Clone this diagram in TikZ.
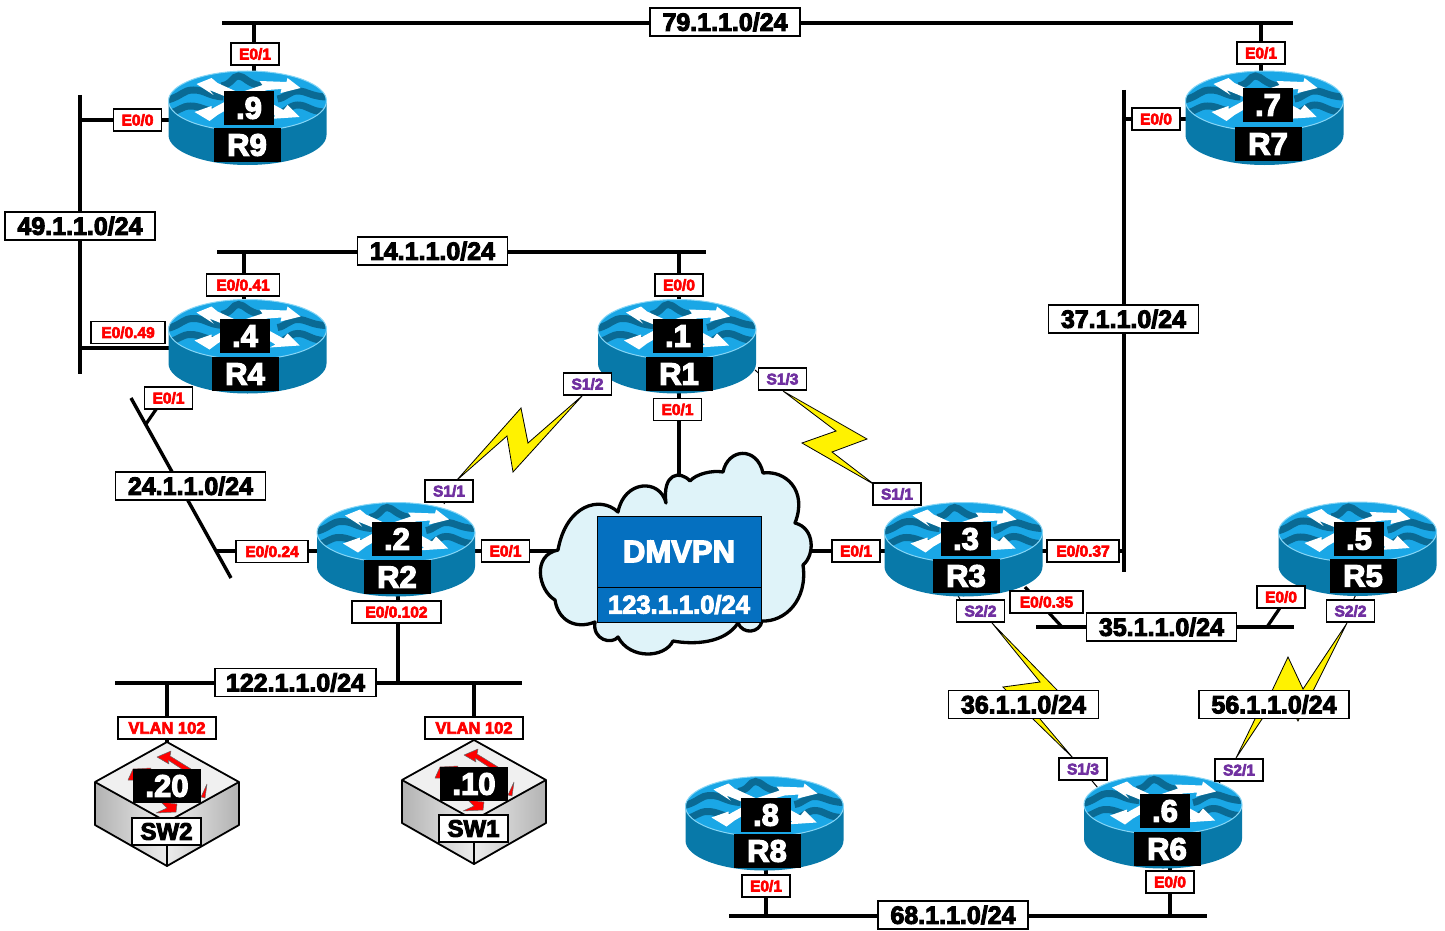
\documentclass[tikz,border=0pt]{standalone}
\usepackage{fontspec}
\newfontfamily\diagfont{Liberation Sans Bold}[FakeBold=4]
\usetikzlibrary{arrows.meta}
\definecolor{routerbody}{HTML}{0879A9}
\definecolor{routertop}{HTML}{1AA7E6}
\definecolor{routerwave}{HTML}{0A6A94}
\definecolor{routerrim}{HTML}{86D6F6}
\definecolor{cloudfill}{HTML}{DFF3F9}
\definecolor{dmvpnblue}{HTML}{0570C0}
\definecolor{portpurple}{HTML}{7030A0}
\tikzset{
    bus/.style = {line width = 3.4},
    bolt/.style = {draw = black, line width = 0.8, fill = yellow, line join = miter},
    routerspot/.style = {inner sep = 0, minimum size = 0},
    addrbox/.style = {fill = black, text = white, font = \diagfont\fontsize{31}{33}\selectfont, inner sep = 0, minimum width = 50, minimum height = 34},
    namebox/.style = {addrbox, minimum width = 67},
    netbox/.style = {draw, line width = 1.2, fill = white, font = \diagfont\fontsize{25}{27}\selectfont, inner sep = 0, minimum width = 150, minimum height = 28},
    portbox/.style = {draw, line width = 1.2, fill = white, text = red, font = \diagfont\fontsize{15.5}{17}\selectfont, inner sep = 0, minimum width = 48, minimum height = 22},
    serialbox/.style = {portbox, text = portpurple},
    redshape/.style = {fill = red, draw = black!60, line width = 0.5, line join = round},
    routericon/.pic = {
        \fill[routerbody] (-79,-17) -- (-79,17) arc[start angle = 180, end angle = 0, x radius = 79, y radius = 30] -- (79,-17) -- cycle;
        \begin{scope}
            \clip (0,-17) ellipse[x radius = 79, y radius = 30];
            \fill[routertop] (-80,-50) rectangle (80,20);
            \draw[routerwave, line width = 7] (-26,-32) .. controls (-15,-34) and (-15,-42) .. (-9,-42) .. controls (-3,-42) and (0,-34) .. (14,-32);
            \draw[routerwave, line width = 7] (-80,-18) .. controls (-65,-22) and (-65,-28) .. (-54,-28) .. controls (-42,-28) and (-40,-22) .. (-24,-21);
            \draw[routerwave, line width = 7] (30,-19) .. controls (38,-20) and (42,-27) .. (50,-27) .. controls (60,-27) and (62,-22) .. (78,-21);
            \draw[routerwave, line width = 7] (-78,-5) .. controls (-68,-7) and (-66,-12) .. (-57,-12) .. controls (-47,-12) and (-42,-7) .. (-30,-6);
            \draw[routerwave, line width = 7] (28,-3) .. controls (38,-5) and (42,-13) .. (50,-13) .. controls (60,-13) and (62,-7) .. (76,-6);
            \fill[white] (-51,-34) -- (-36,-40) -- (-30,-35) -- (-8,-25) -- (-16,-19) -- (-38,-28) -- (-34,-23) -- cycle;
            \fill[white] (53,-30) -- (40,-40) -- (39,-36) -- (12,-37) -- (15,-33) -- (-12,-24) -- (-8,-20) -- (20,-28) -- (34,-29) -- (33,-25) -- cycle;
            \fill[white] (-53,-6) -- (-36,-12) -- (-36,-9) -- (-12,-22) -- (-4,-18) -- (-30,-3) -- (-38,3) -- cycle;
            \fill[white] (52,-1) -- (40,-13) -- (36,-8) -- (14,-20) -- (8,-14) -- (28,-2) -- (22,1) -- cycle;
        \end{scope}
        \draw[routerrim, line width = 1] (0,-17) ellipse[x radius = 79, y radius = 30];
    },
    switchicon/.pic = {
        \fill[left color = gray!60, right color = gray!15] (-72,0) -- (0,40) -- (0,84) -- (-72,43) -- cycle;
        \fill[left color = gray!15, right color = gray!60] (72,0) -- (0,40) -- (0,84) -- (72,43) -- cycle;
        \fill[gray!12] (0,-40) -- (72,0) -- (0,40) -- (-72,0) -- cycle;
        \draw[redshape] (-10,-25) -- (4,-31) -- (3,-26) -- (24,-13) -- (21,-9) -- (1,-22) -- (2,-18) -- cycle;
        \draw[redshape] (-39,-2) -- (-34,-13) -- (-16,-14) -- (-20,-2) -- cycle;
        \draw[redshape] (34,15) -- (40,2) -- (38,16) -- cycle;
        \draw[redshape] (-11,31) -- (9,30) -- (10,22) -- (-6,20) -- (0,26) -- cycle;
        \draw[line width = 1.8, line join = round] (0,-40) -- (72,0) -- (72,43) -- (0,84) -- (-72,43) -- (-72,0) -- cycle;
        \draw[line width = 1.8] (-72,0) -- (0,40) -- (72,0) (0,40) -- (0,84);
    },
}
\begin{document}
\begin{tikzpicture}[x = 1pt, y = -1pt]
    \useasboundingbox (0,0) rectangle (1445,931);
    % router positions
    \node[routerspot] (r9) at (247.5,118) {};
    \node[routerspot] (r7) at (1264.5,118) {};
    \node[routerspot] (r4) at (247.5,346.5) {};
    \node[routerspot] (r1) at (677,346.5) {};
    \node[routerspot] (r2) at (396,549.5) {};
    \node[routerspot] (r3) at (963.5,549.5) {};
    \node[routerspot] (r5) at (1357.5,549) {};
    \node[routerspot] (r8) at (764.5,823.5) {};
    \node[routerspot] (r6) at (1163,821.5) {};
    % networks
    \coordinate (n79w) at (222,23);
    \coordinate (n79e) at (1293,23);
    \coordinate (n49n) at (80,95);
    \coordinate (n49s) at (80,374);
    \coordinate (n14w) at (217,252);
    \coordinate (n14e) at (706,252);
    \coordinate (n24n) at (131,398);
    \coordinate (n24s) at (231,578);
    \coordinate (n122w) at (115,683);
    \coordinate (n122e) at (522,683);
    \coordinate (n37n) at (1124,90);
    \coordinate (n37s) at (1124,572);
    \coordinate (n35w) at (1036,627);
    \coordinate (n35e) at (1294,627);
    \coordinate (n68w) at (729,916);
    \coordinate (n68e) at (1207,916);
    \draw[bus] (n79w) -- (n79e);
    \draw[bus] (n49n) -- (n49s);
    \draw[bus] (n14w) -- (n14e);
    \draw[bus] (n24n) -- (n24s);
    \draw[bus] (n122w) -- (n122e);
    \draw[bus] (n37n) -- (n37s);
    \draw[bus] (n35w) -- (n35e);
    \draw[bus] (n68w) -- (n68e);
    % links onto the networks
    \coordinate (t79r9) at (254,23);
    \coordinate (t79r7) at (1261,23);
    \coordinate (t49r9) at (80,120);
    \coordinate (t49r4) at (80,348);
    \coordinate (t14r4) at (244,252);
    \coordinate (t14r1) at (679,252);
    \coordinate (t24r4) at (146,424);
    \coordinate (r4port) at (170,389);
    \coordinate (t24r2) at (217,551);
    \coordinate (t122r2) at (398,683);
    \coordinate (t122sw2) at (167,683);
    \coordinate (t122sw1) at (474,683);
    \coordinate (sw2top) at (167,742);
    \coordinate (sw1top) at (474,740);
    \coordinate (t37r7) at (1124,119);
    \coordinate (t37r3) at (1124,551);
    \coordinate (t35r3) at (1062,627);
    \coordinate (r3port) at (1025,587);
    \coordinate (t35r5) at (1267,627);
    \coordinate (r5port) at (1288,596);
    \coordinate (t68r8) at (766,916);
    \coordinate (t68r6) at (1170,916);
    \coordinate (cloudtop) at (679,480);
    \coordinate (cloudleft) at (560,551);
    \coordinate (cloudright) at (806,551);
    \begin{scope}[line width = 3.2]
        \draw (t79r9) -- (t79r9 |- r9);
        \draw (t79r7) -- (t79r7 |- r7);
        \draw (t49r9) -- (t49r9 -| r9);
        \draw (t49r4) -- (t49r4 -| r4);
        \draw (t14r4) -- (t14r4 |- r4);
        \draw (t14r1) -- (t14r1 |- r1);
        \draw (t24r4) -- (r4port);
        \draw (t24r2) -- (t24r2 -| r2);
        \draw (t122r2) -- (t122r2 |- r2);
        \draw (t122sw2) -- (sw2top);
        \draw (t122sw1) -- (sw1top);
        \draw (t37r7) -- (t37r7 -| r7);
        \draw (t37r3) -- (t37r3 -| r3);
        \draw (t35r3) -- (r3port);
        \draw (t35r5) -- (r5port);
        \draw (t68r8) -- (t68r8 |- r8);
        \draw (t68r6) -- (t68r6 |- r6);
        \draw (cloudtop) -- (cloudtop |- r1);
        \draw (cloudleft) -- (cloudleft -| r2);
        \draw (cloudright) -- (cloudright -| r3);
    \end{scope}
    % cloud
    \draw[line width = 3.3, fill = cloudfill, line join = round] (558,550)
        .. controls (566,505) and (600,495) .. (618,512)
        .. controls (624,480) and (660,478) .. (666,503)
        .. controls (662,473) and (680,470) .. (690,481)
        .. controls (696,474) and (712,470) .. (723,472)
        .. controls (728,448) and (757,446) .. (763,473)
        .. controls (785,470) and (808,490) .. (795,523)
        .. controls (815,528) and (815,555) .. (803,565)
        .. controls (808,600) and (785,622) .. (762,621)
        .. controls (760,633) and (743,635) .. (738,623)
        .. controls (725,643) and (695,645) .. (673,641)
        .. controls (665,658) and (630,660) .. (618,637)
        .. controls (612,645) and (592,640) .. (595,622)
        .. controls (575,630) and (558,620) .. (555,600)
        .. controls (538,590) and (532,555) .. (558,550) -- cycle;
    % serial links
    \draw[bolt] (456,481) -- (521,408) -- (528,443) -- (583,395) -- (513,472) -- (507,436) -- cycle;
    \draw[bolt] (783,391) -- (867,439) -- (832,452) -- (875,485) -- (802,443) -- (836,431) -- cycle;
    \draw[bolt] (992,623) -- (1040,682) -- (1003,687) -- (1033,719) -- (1073,758) -- (1040,719) -- (1025,697) -- (1058,691) -- cycle;
    \draw[bolt] (1236,758) -- (1255,719) -- (1270,695) -- (1288,657) -- (1303,689) -- (1347,623) -- (1313,691) -- (1298,721) -- (1282,693) -- (1262,719) -- cycle;
    \begin{scope}[line width = 1]
        \coordinate (r2s11port) at (444,504);
        \coordinate (r1s13port) at (755,370);
        \coordinate (r3s11port) at (915,506);
        \coordinate (r3s22port) at (955,590);
        \coordinate (r6s13port) at (1098,788);
        \coordinate (r6s21port) at (1216,786);
        \coordinate (r5s22port) at (1358,590);
        \coordinate (r2s11end) at (448,496);
        \coordinate (r1s13end) at (764,378);
        \coordinate (r3s11end) at (908,498);
        \coordinate (r3s22end) at (962,603);
        \coordinate (r6s13end) at (1088,776);
        \coordinate (r6s21end) at (1224,778);
        \coordinate (r5s22end) at (1351,605);
        \draw (r2s11port) -- (r2s11end);
        \draw (r1s13port) -- (r1s13end);
        \draw (r3s11port) -- (r3s11end);
        \draw (r3s22port) -- (r3s22end);
        \draw (r6s13port) -- (r6s13end);
        \draw (r6s21port) -- (r6s21end);
        \draw (r5s22port) -- (r5s22end);
    \end{scope}
    % routers and switches
    \pic at (r9) {routericon};
    \pic at (r7) {routericon};
    \pic at (r4) {routericon};
    \pic at (r1) {routericon};
    \pic at (r2) {routericon};
    \pic at (r3) {routericon};
    \pic at (r5) {routericon};
    \pic at (r8) {routericon};
    \pic at (r6) {routericon};
    \pic at (167,782) {switchicon};
    \pic at (474,780) {switchicon};
    \node[addrbox] (r9addr) at (249,108) {.9};
    \node[namebox] (r9name) at (247,145) {R9};
    \node[addrbox] (r7addr) at (1268,105) {.7};
    \node[namebox] (r7name) at (1268,144) {R7};
    \node[addrbox] (r4addr) at (245,336) {.4};
    \node[namebox] (r4name) at (245,374) {R4};
    \node[addrbox] (r1addr) at (678,336) {.1};
    \node[namebox] (r1name) at (679,374) {R1};
    \node[addrbox] (r2addr) at (397,539) {.2};
    \node[namebox] (r2name) at (397,577) {R2};
    \node[addrbox] (r3addr) at (966,539) {.3};
    \node[namebox] (r3name) at (966,576) {R3};
    \node[addrbox] (r5addr) at (1359,539) {.5};
    \node[namebox] (r5name) at (1363,576) {R5};
    \node[addrbox] (r8addr) at (766,815) {.8};
    \node[namebox] (r8name) at (767,851) {R8};
    \node[addrbox] (r6addr) at (1165,811) {.6};
    \node[namebox] (r6name) at (1167,849) {R6};
    \node[addrbox, minimum width = 68] (sw2addr) at (167,786) {.20};
    \node[addrbox, minimum width = 68] (sw1addr) at (474,784) {.10};
    \begin{scope}[every node/.append style = {font = \diagfont\fontsize{24}{26}\selectfont, minimum width = 69, minimum height = 27, draw, line width = 1.2, fill = white, inner sep = 0}]
        \node (sw2name) at (166.5,831.5) {SW2};
        \node (sw1name) at (473.5,828.5) {SW1};
    \end{scope}
    % cloud labels
    \node[fill = dmvpnblue, draw, text = white, line width = 1, inner sep = 0, minimum width = 164, minimum height = 71, font = \diagfont\fontsize{31}{33}\selectfont] (dmvpn) at (679,551.5) {DMVPN};
    \node[fill = dmvpnblue, draw, text = white, line width = 1, inner sep = 0, minimum width = 164, minimum height = 35, font = \diagfont\fontsize{25.5}{27}\selectfont] (dmvpnnet) at (679,604.5) {123.1.1.0/24};
    % network labels
    \node[netbox] (net79) at (725,22) {79.1.1.0/24};
    \node[netbox] (net49) at (80,226) {49.1.1.0/24};
    \node[netbox] (net14) at (432.5,251) {14.1.1.0/24};
    \node[netbox] (net24) at (190.5,486) {24.1.1.0/24};
    \node[netbox, minimum width = 161] (net122) at (295.5,682.5) {122.1.1.0/24};
    \node[netbox] (net37) at (1123.5,319) {37.1.1.0/24};
    \node[netbox] (net35) at (1161.5,627) {35.1.1.0/24};
    \node[netbox] (net36) at (1023.5,704.5) {36.1.1.0/24};
    \node[netbox] (net56) at (1274,704.5) {56.1.1.0/24};
    \node[netbox] (net68) at (953,915) {68.1.1.0/24};
    % port labels
    \node[portbox] (r9e01) at (255,54) {E0/1};
    \node[portbox] (r9e00) at (137.5,120) {E0/0};
    \node[portbox] (r7e01) at (1261,53) {E0/1};
    \node[portbox] (r7e00) at (1156,119) {E0/0};
    \node[portbox, minimum width = 73] (r4e041) at (243,285) {E0/0.41};
    \node[portbox, minimum width = 74] (r4e049) at (128,332.5) {E0/0.49};
    \node[portbox] (r4e01) at (168.5,398) {E0/1};
    \node[portbox] (r1e00) at (679,285) {E0/0};
    \node[portbox] (r1e01) at (677.5,409.5) {E0/1};
    \node[portbox, minimum width = 72] (r2e024) at (272,551.5) {E0/0.24};
    \node[portbox] (r2e01) at (505.5,551) {E0/1};
    \node[portbox, minimum width = 89] (r2e0102) at (396.5,612) {E0/0.102};
    \node[portbox] (r3e01) at (856,551) {E0/1};
    \node[portbox, minimum width = 72] (r3e037) at (1083,551) {E0/0.37};
    \node[portbox, minimum width = 73] (r3e035) at (1046.5,602) {E0/0.35};
    \node[portbox] (r5e00) at (1281,597) {E0/0};
    \node[portbox] (r8e01) at (766,886) {E0/1};
    \node[portbox] (r6e00) at (1170,882) {E0/0};
    \node[portbox, minimum width = 98, font = \diagfont\fontsize{16.5}{18}\selectfont] (sw2vlan) at (167,728) {VLAN 102};
    \node[portbox, minimum width = 98, font = \diagfont\fontsize{16.5}{18}\selectfont] (sw1vlan) at (474,728) {VLAN 102};
    % serial labels
    \node[serialbox] (r1s12) at (587.5,384) {S1/2};
    \node[serialbox] (r2s11) at (449,491) {S1/1};
    \node[serialbox] (r1s13) at (782.5,379) {S1/3};
    \node[serialbox] (r3s11) at (897,494) {S1/1};
    \node[serialbox] (r3s22) at (980.5,611) {S2/2};
    \node[serialbox] (r6s13) at (1083,769) {S1/3};
    \node[serialbox] (r5s22) at (1350.5,611) {S2/2};
    \node[serialbox] (r6s21) at (1239,770) {S2/1};
\end{tikzpicture}
\end{document}
